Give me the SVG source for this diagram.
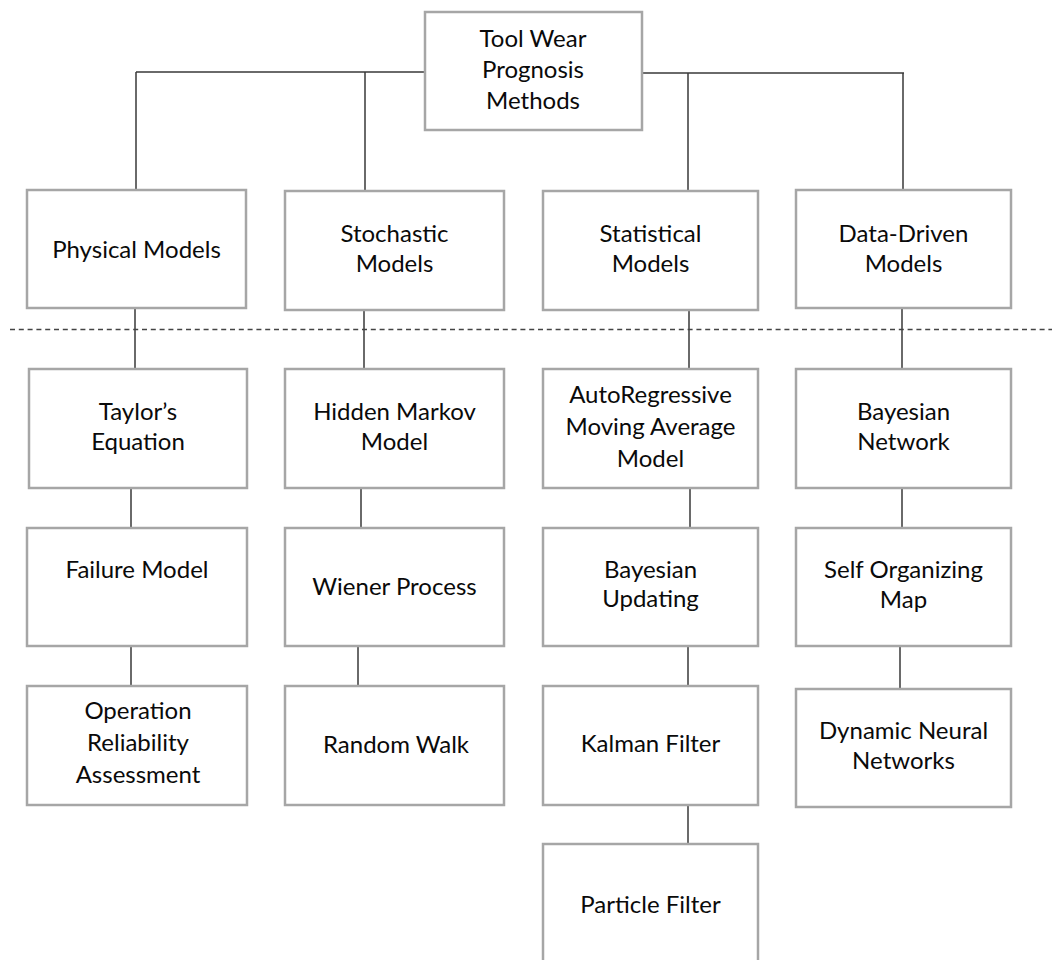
<svg xmlns="http://www.w3.org/2000/svg" width="1052" height="960" viewBox="0 0 1052 960">
  <style>
    .box { fill: #ffffff; stroke: #a6a6a6; stroke-width: 2.5; }
    .lbl { font-family: Lato, "Open Sans", "Liberation Sans", sans-serif; font-size: 24px; fill: #0a0a0a; text-anchor: middle; }
    .wire { fill: none; stroke: #3a3a3a; stroke-width: 1.5; }
    .sep { fill: none; stroke: #444444; stroke-width: 1.4; stroke-dasharray: 5 3.8; }
  </style>
  <rect width="1052" height="960" fill="#ffffff"/>

  <!-- connectors -->
  <g id="connectors">
    <path class="wire" d="M136 72 H425 M642 73 H904"/>
    <path class="wire" d="M136 72 V190 M365 72 V191 M688 73 V191 M903 73 V190"/>
    <path class="wire" d="M135 308 V369 M364 310 V369 M689 310 V369 M902 308 V369"/>
    <path class="wire" d="M131 488 V528 M361 488 V528 M690 488 V528 M902 488 V528"/>
    <path class="wire" d="M131 646 V686 M358 646 V686 M688 646 V686 M900 646 V689"/>
    <path class="wire" d="M688 805 V844"/>
  </g>

  <!-- divider between categories and methods -->
  <line class="sep" x1="10" y1="329.5" x2="1052" y2="329.5"/>

  <!-- root -->
  <g id="root">
    <rect class="box" x="425" y="12" width="217" height="118"/>
    <text class="lbl" x="533" y="47">Tool Wear</text>
    <text class="lbl" x="533" y="78">Prognosis</text>
    <text class="lbl" x="533" y="109">Methods</text>
  </g>

  <!-- categories -->
  <g id="physical">
    <rect class="box" x="27" y="190" width="219" height="118"/>
    <text class="lbl" x="136.5" y="258">Physical Models</text>
  </g>
  <g id="stochastic">
    <rect class="box" x="285" y="191" width="219" height="119"/>
    <text class="lbl" x="394.5" y="242">Stochastic</text>
    <text class="lbl" x="394.5" y="272">Models</text>
  </g>
  <g id="statistical">
    <rect class="box" x="543" y="191" width="215" height="119"/>
    <text class="lbl" x="650.5" y="242">Statistical</text>
    <text class="lbl" x="650.5" y="272">Models</text>
  </g>
  <g id="datadriven">
    <rect class="box" x="796" y="190" width="215" height="118"/>
    <text class="lbl" x="903.5" y="242">Data-Driven</text>
    <text class="lbl" x="903.5" y="272">Models</text>
  </g>

  <!-- second row -->
  <g id="taylor">
    <rect class="box" x="29" y="369" width="218" height="119"/>
    <text class="lbl" x="138" y="420">Taylor’s</text>
    <text class="lbl" x="138" y="450">Equation</text>
  </g>
  <g id="hmm">
    <rect class="box" x="285" y="369" width="219" height="119"/>
    <text class="lbl" x="394.5" y="420">Hidden Markov</text>
    <text class="lbl" x="394.5" y="450">Model</text>
  </g>
  <g id="arma">
    <rect class="box" x="543" y="369" width="215" height="119"/>
    <text class="lbl" x="650.5" y="403">AutoRegressive</text>
    <text class="lbl" x="650.5" y="435">Moving Average</text>
    <text class="lbl" x="650.5" y="467">Model</text>
  </g>
  <g id="bayesnet">
    <rect class="box" x="796" y="369" width="215" height="119"/>
    <text class="lbl" x="903.5" y="420">Bayesian</text>
    <text class="lbl" x="903.5" y="450">Network</text>
  </g>

  <!-- third row -->
  <g id="failure">
    <rect class="box" x="27" y="528" width="220" height="118"/>
    <text class="lbl" x="137" y="578">Failure Model</text>
  </g>
  <g id="wiener">
    <rect class="box" x="285" y="528" width="219" height="118"/>
    <text class="lbl" x="394.5" y="595">Wiener Process</text>
  </g>
  <g id="bayesupd">
    <rect class="box" x="543" y="528" width="215" height="118"/>
    <text class="lbl" x="650.5" y="578">Bayesian</text>
    <text class="lbl" x="650.5" y="607">Updating</text>
  </g>
  <g id="som">
    <rect class="box" x="796" y="528" width="215" height="118"/>
    <text class="lbl" x="903.5" y="578">Self Organizing</text>
    <text class="lbl" x="903.5" y="608">Map</text>
  </g>

  <!-- fourth row -->
  <g id="ora">
    <rect class="box" x="27" y="686" width="220" height="119"/>
    <text class="lbl" x="138" y="719">Operation</text>
    <text class="lbl" x="138" y="751">Reliability</text>
    <text class="lbl" x="138" y="783">Assessment</text>
  </g>
  <g id="randomwalk">
    <rect class="box" x="285" y="686" width="219" height="119"/>
    <text class="lbl" x="396" y="753">Random Walk</text>
  </g>
  <g id="kalman">
    <rect class="box" x="543" y="686" width="215" height="119"/>
    <text class="lbl" x="650.5" y="752">Kalman Filter</text>
  </g>
  <g id="dnn">
    <rect class="box" x="796" y="689" width="215" height="118"/>
    <text class="lbl" x="903.5" y="739">Dynamic Neural</text>
    <text class="lbl" x="903.5" y="769">Networks</text>
  </g>

  <!-- fifth row -->
  <g id="particle">
    <rect class="box" x="543" y="844" width="215" height="130"/>
    <text class="lbl" x="650.5" y="913">Particle Filter</text>
  </g>
</svg>
